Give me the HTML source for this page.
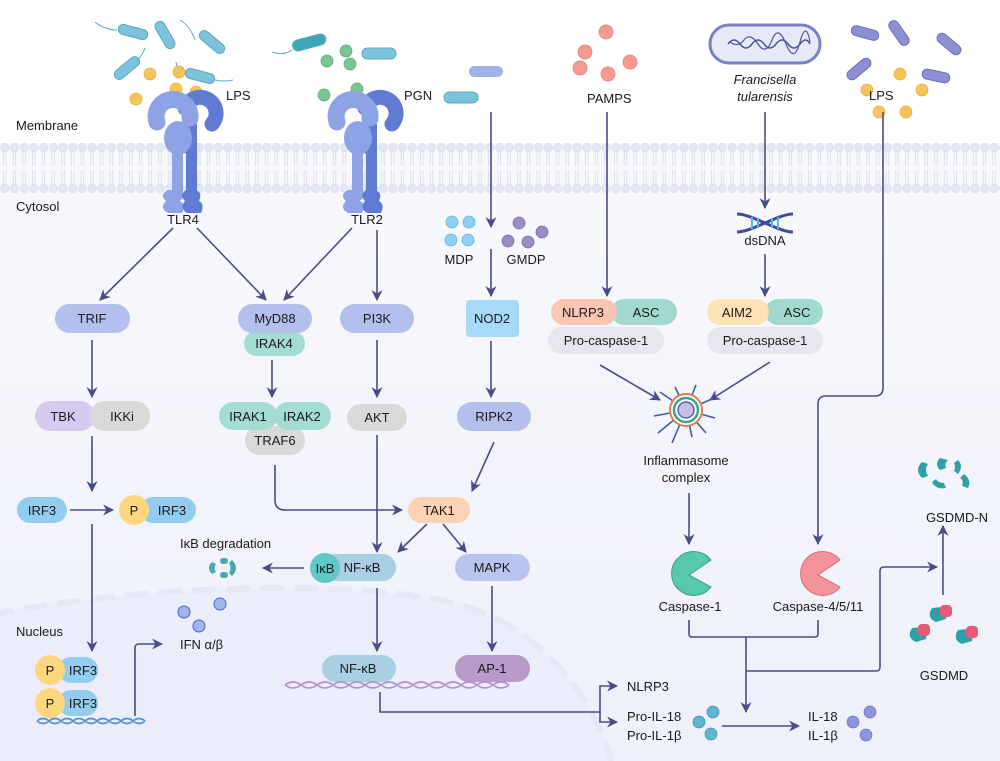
<!DOCTYPE html>
<html><head><meta charset="utf-8"><style>
html,body{margin:0;padding:0;background:#fff}
svg{display:block}
text{font-family:"Liberation Sans",Arial,sans-serif;font-size:13px;fill:#1a1a1a}
.c{text-anchor:middle}
</style></head><body>
<svg width="1000" height="761" viewBox="0 0 1000 761" xmlns="http://www.w3.org/2000/svg">
<defs>
<marker id="a" viewBox="0 0 10 10" refX="9" refY="5" markerWidth="11" markerHeight="11" markerUnits="userSpaceOnUse" orient="auto"><path d="M0,0 L10,5 L0,10 L3,5 Z" fill="#4a4c85"/></marker>
<linearGradient id="bg" x1="0" y1="0" x2="0" y2="1"><stop offset="0" stop-color="#fbfbfd"/><stop offset="1" stop-color="#eef0fa"/></linearGradient>
<pattern id="mem" x="0" y="143" width="9.7" height="50" patternUnits="userSpaceOnUse">
<line x1="3.5" y1="8" x2="3.5" y2="23" stroke="#d5d9ea" stroke-width="0.8"/><line x1="6" y1="8" x2="6" y2="23" stroke="#d5d9ea" stroke-width="0.8"/>
<line x1="3.5" y1="27" x2="3.5" y2="42" stroke="#d5d9ea" stroke-width="0.8"/><line x1="6" y1="27" x2="6" y2="42" stroke="#d5d9ea" stroke-width="0.8"/>
<circle cx="4.85" cy="4.5" r="4.2" fill="#e4e7f3" stroke="#d3d8ea" stroke-width="0.6"/>
<circle cx="4.85" cy="45.5" r="4.2" fill="#e4e7f3" stroke="#d3d8ea" stroke-width="0.6"/>
</pattern>
<g id="tlr">
<path d="M0,108 A16,16 0 1 1 27,124" fill="none" stroke="#5f7bd3" stroke-width="15" stroke-linecap="round"/>
<rect x="1" y="122" width="11" height="78" rx="3" fill="#5f7bd3"/>
<rect x="-4" y="120" width="16" height="34" rx="7" fill="#5f7bd3"/>
<rect x="-13" y="135" width="11" height="65" rx="3" fill="#8ea3e6"/>
<ellipse cx="-7" cy="138" rx="14" ry="17" fill="#8ea3e6"/>
<path d="M5,118 A17,17 0 1 0 -28,122" fill="none" stroke="#8ea3e6" stroke-width="17" stroke-linecap="round"/>
<path d="M-17,190 q-9,5 -2,11 q-7,7 2,12 l14,0 q4,-9 -2,-12 q4,-9 -4,-11 z" fill="#8ea3e6"/>
<path d="M1,190 q-7,5 -1,11 q-6,7 2,12 l14,0 q4,-9 -2,-12 q4,-9 -4,-11 z" fill="#5f7bd3"/>
</g>
</defs>
<rect width="1000" height="761" fill="url(#bg)"/>
<rect y="0" width="1000" height="143" fill="#fff"/>
<!-- nucleus -->
<path d="M-10,615 C150,583 380,578 470,608 C540,632 590,690 612,761 L-10,761 Z" fill="#ebeefa"/>
<path d="M-10,615 C150,583 380,578 470,608 C540,632 590,690 612,761" fill="none" stroke="#e3e7f6" stroke-width="6" stroke-dasharray="24,10"/>
<!-- membrane -->
<rect x="0" y="143" width="1000" height="50" fill="url(#mem)"/>

<!-- bacteria top-left -->
<g fill="#7cc3db" stroke="#5aa9c4" stroke-width="1">
<rect x="118" y="27" width="30" height="10" rx="5" transform="rotate(15 133 32)"/>
<rect x="150" y="30" width="30" height="10" rx="5" transform="rotate(60 165 35)"/>
<rect x="197" y="37" width="30" height="10" rx="5" transform="rotate(40 212 42)"/>
<rect x="112" y="63" width="30" height="10" rx="5" transform="rotate(-40 127 68)"/>
<rect x="185" y="71" width="30" height="10" rx="5" transform="rotate(15 200 76)"/>
<rect x="292" y="37" width="34" height="11" rx="5.5" fill="#3ea6b5" transform="rotate(-15 309 42)"/>
<rect x="362" y="48" width="34" height="11" rx="5.5"/>
<rect x="444" y="92" width="34" height="11" rx="5.5"/>
</g>
<rect x="469" y="66" width="34" height="11" rx="5.5" fill="#9fb3e6"/>
<g fill="none" stroke="#5aa9c4" stroke-width="1"><path d="M95,22 q10,8 22,8"/><path d="M180,20 q10,6 15,20"/><path d="M145,48 q-4,10 -8,12"/><path d="M176,62 q2,10 5,12"/><path d="M215,80 q10,2 18,0"/><path d="M292,50 q-8,6 -20,2"/></g>
<g fill="#f5c45a" stroke="#e8ac3a" stroke-width="0.7">
<circle cx="150" cy="74" r="6"/><circle cx="179" cy="72" r="6"/><circle cx="136" cy="99" r="6"/><circle cx="176" cy="89" r="6"/><circle cx="196" cy="92" r="6"/>
<circle cx="900" cy="74" r="6"/><circle cx="867" cy="90" r="6"/><circle cx="922" cy="90" r="6"/><circle cx="879" cy="112" r="6"/><circle cx="906" cy="112" r="6"/>
</g>
<g fill="#79c594" stroke="#5aaa77" stroke-width="0.7">
<circle cx="346" cy="51" r="6"/><circle cx="327" cy="61" r="6"/><circle cx="350" cy="64" r="6"/><circle cx="324" cy="95" r="6"/><circle cx="357" cy="89" r="6"/>
</g>
<g fill="#f59a90" stroke="#e57a70" stroke-width="0.7">
<circle cx="606" cy="32" r="7"/><circle cx="585" cy="52" r="7"/><circle cx="630" cy="62" r="7"/><circle cx="608" cy="74" r="7"/><circle cx="580" cy="68" r="7"/>
</g>
<!-- francisella -->
<rect x="710" y="25" width="110" height="38" rx="19" fill="#e7e9f7" stroke="#7b80c6" stroke-width="3"/>
<path d="M728,44 q6,-8 12,0 t12,0 t12,0 t12,0 t12,0 t12,0 t10,0" fill="none" stroke="#4e5499" stroke-width="1.5"/>
<path d="M730,42 q8,6 14,-2 t14,4 t14,-4 t14,4 t14,-2 t10,0" fill="none" stroke="#4e5499" stroke-width="1.2"/>
<!-- right bacteria -->
<g fill="#8c8fd3" stroke="#6d70b8" stroke-width="1">
<rect x="851" y="28" width="28" height="10" rx="5" transform="rotate(15 865 33)"/>
<rect x="885" y="28" width="28" height="10" rx="5" transform="rotate(55 899 33)"/>
<rect x="935" y="39" width="28" height="10" rx="5" transform="rotate(40 949 44)"/>
<rect x="845" y="64" width="28" height="10" rx="5" transform="rotate(-40 859 69)"/>
<rect x="922" y="71" width="28" height="10" rx="5" transform="rotate(12 936 76)"/>
</g>

<!-- receptors -->
<use href="#tlr" x="185" y="0"/>
<use href="#tlr" x="365" y="0"/>

<!-- labels -->
<text x="226" y="100">LPS</text>
<text x="404" y="100">PGN</text>
<text x="587" y="103">PAMPS</text>
<text x="765" y="84" class="c" font-style="italic">Francisella</text>
<text x="765" y="101" class="c" font-style="italic">tularensis</text>
<text x="869" y="100">LPS</text>
<text x="16" y="130">Membrane</text>
<text x="16" y="211">Cytosol</text>
<text x="183" y="224" class="c">TLR4</text>
<text x="367" y="224" class="c">TLR2</text>
<text x="16" y="636">Nucleus</text>

<!-- MDP/GMDP -->
<g fill="#8ed0f3" stroke="#62b6e3" stroke-width="0.8"><circle cx="452" cy="222" r="6"/><circle cx="469" cy="222" r="6"/><circle cx="451" cy="240" r="6"/><circle cx="468" cy="240" r="6"/></g>
<g fill="#9b8cc6" stroke="#7d6eab" stroke-width="0.8"><circle cx="519" cy="223" r="6"/><circle cx="542" cy="232" r="6"/><circle cx="508" cy="241" r="6"/><circle cx="528" cy="242" r="6"/></g>
<text x="459" y="264" class="c">MDP</text><text x="526" y="264" class="c">GMDP</text>
<!-- dsDNA icon -->
<path d="M737,214 C752,214 778,232 793,232 M737,232 C752,232 778,214 793,214" fill="none" stroke="#3f4aa0" stroke-width="3"/>
<g stroke="#59b5e0" stroke-width="2"><line x1="752" y1="217" x2="752" y2="229"/><line x1="758" y1="218" x2="758" y2="228"/><line x1="772" y1="218" x2="772" y2="228"/><line x1="778" y1="217" x2="778" y2="229"/></g>
<text x="765" y="245" class="c">dsDNA</text>

<!-- connectors -->
<g stroke="#4a4c85" stroke-width="1.6" fill="none" marker-end="url(#a)">
<line x1="173" y1="228" x2="100" y2="300"/>
<line x1="197" y1="228" x2="266" y2="300"/>
<line x1="352" y1="228" x2="284" y2="300"/>
<line x1="377" y1="230" x2="377" y2="300"/>
<line x1="491" y1="112" x2="491" y2="227"/>
<line x1="491" y1="249" x2="491" y2="296"/>
<line x1="607" y1="112" x2="607" y2="296"/>
<line x1="765" y1="112" x2="765" y2="208"/>
<line x1="765" y1="254" x2="765" y2="296"/>
<line x1="92" y1="340" x2="92" y2="397"/>
<line x1="272" y1="360" x2="272" y2="397"/>
<line x1="377" y1="340" x2="377" y2="397"/>
<line x1="491" y1="341" x2="491" y2="397"/>
<line x1="92" y1="436" x2="92" y2="491"/>
<line x1="70" y1="510" x2="113" y2="510"/>
<path d="M275,465 V500 Q275,510 285,510 H402"/>
<line x1="494" y1="442" x2="472" y2="491"/>
<line x1="377" y1="435" x2="377" y2="552"/>
<line x1="427" y1="524" x2="398" y2="552"/>
<line x1="443" y1="524" x2="466" y2="552"/>
<line x1="304" y1="568" x2="263" y2="568"/>
<line x1="92" y1="524" x2="92" y2="651"/>
<path d="M135,716 V648 Q135,644 139,644 H162"/>
<line x1="377" y1="588" x2="377" y2="651"/>
<line x1="492" y1="586" x2="492" y2="651"/>
<path d="M380,692 V712 H600 V686 H617"/>
<path d="M600,712 V722 H617"/>
<line x1="600" y1="365" x2="660" y2="400"/>
<line x1="770" y1="362" x2="710" y2="400"/>
<line x1="689" y1="493" x2="689" y2="544"/>
<path d="M883,112 V388 Q883,396 875,396 H826 Q818,396 818,404 V544"/>
<path d="M689,620 V634 Q689,637 692,637 H815 Q818,637 818,634 V620" marker-end="none"/>
<line x1="746" y1="637" x2="746" y2="712"/>
<path d="M746,671 H876 Q880,671 880,667 V571 Q880,567 884,567 H937"/>
<line x1="943" y1="595" x2="943" y2="526"/>
<line x1="722" y1="726" x2="799" y2="726"/>
</g>

<!-- nodes -->
<g>
<rect x="55" y="304" width="75" height="29" rx="14.5" fill="#b3c0ee"/><text x="92" y="323" class="c">TRIF</text>
<rect x="244" y="331" width="61" height="25" rx="12.5" fill="#a4dcd3"/><text x="274" y="348" class="c">IRAK4</text>
<rect x="238" y="304" width="74" height="29" rx="14.5" fill="#b3c0ee"/><text x="275" y="323" class="c">MyD88</text>
<rect x="340" y="304" width="74" height="29" rx="14.5" fill="#b3c0ee"/><text x="377" y="323" class="c">PI3K</text>
<rect x="466" y="300" width="53" height="37" rx="4" fill="#a7d9f8"/><text x="492" y="323" class="c">NOD2</text>
<rect x="548" y="327" width="116" height="27" rx="13.5" fill="#e6e6ee"/><text x="606" y="345" class="c">Pro-caspase-1</text>
<rect x="611" y="299" width="66" height="26" rx="13" fill="#a2d9cf"/><text x="646" y="317" class="c">ASC</text>
<rect x="551" y="299" width="66" height="26" rx="13" fill="#f9c6b3"/><text x="583" y="317" class="c">NLRP3</text>
<rect x="707" y="327" width="116" height="27" rx="13.5" fill="#e6e6ee"/><text x="765" y="345" class="c">Pro-caspase-1</text>
<rect x="765" y="299" width="58" height="26" rx="13" fill="#a2d9cf"/><text x="797" y="317" class="c">ASC</text>
<rect x="707" y="299" width="62" height="26" rx="13" fill="#fde2b5"/><text x="737" y="317" class="c">AIM2</text>
<rect x="35" y="401" width="60" height="30" rx="15" fill="#d6cbee"/><text x="63" y="421" class="c">TBK</text>
<rect x="90" y="401" width="60" height="30" rx="15" fill="#d9d9d9"/><text x="122" y="421" class="c">IKKi</text>
<rect x="245" y="426" width="60" height="29" rx="14.5" fill="#d9d9d9"/><text x="275" y="445" class="c">TRAF6</text>
<rect x="219" y="402" width="58" height="28" rx="14" fill="#a4dcd3"/><text x="248" y="421" class="c">IRAK1</text>
<rect x="274" y="402" width="57" height="28" rx="14" fill="#a4dcd3"/><text x="302" y="421" class="c">IRAK2</text>
<rect x="347" y="404" width="60" height="27" rx="13.5" fill="#d9d9d9"/><text x="377" y="422" class="c">AKT</text>
<rect x="457" y="402" width="74" height="29" rx="14.5" fill="#b3c0ee"/><text x="494" y="421" class="c">RIPK2</text>
<rect x="17" y="497" width="50" height="26" rx="13" fill="#92cdf0"/><text x="42" y="515" class="c">IRF3</text>
<rect x="140" y="497" width="56" height="26" rx="13" fill="#92cdf0"/><text x="172" y="515" class="c">IRF3</text>
<circle cx="134" cy="510" r="15" fill="#fcd77e"/><text x="134" y="515" class="c">P</text>
<rect x="408" y="497" width="62" height="26" rx="13" fill="#fdd1b4"/><text x="439" y="515" class="c">TAK1</text>
<rect x="322" y="554" width="74" height="27" rx="13.5" fill="#a9cfe3"/><text x="362" y="572" class="c">NF-κB</text>
<circle cx="325" cy="568" r="15" fill="#5ec9c6"/><text x="325" y="573" class="c">IκB</text>
<rect x="455" y="554" width="75" height="27" rx="13.5" fill="#b8c6ef"/><text x="492" y="572" class="c">MAPK</text>
<text x="180" y="548">IκB degradation</text>
<g fill="#4aa8ad"><path d="M212,562 q-6,6 0,12 l4,-2 q-3,-4 0,-8 z"/><rect x="220" y="558" width="8" height="6" rx="3"/><rect x="220" y="572" width="8" height="6" rx="3"/><path d="M232,560 q8,8 0,16 l-3,-3 q3,-5 0,-10 z"/></g>
<g fill="#9fb6f0" stroke="#4e63c5" stroke-width="1"><circle cx="184" cy="612" r="6"/><circle cx="220" cy="604" r="6"/><circle cx="199" cy="626" r="6"/></g>
<text x="180" y="649">IFN α/β</text>
<rect x="322" y="655" width="74" height="27" rx="13.5" fill="#a9cfe3"/><text x="358" y="673" class="c">NF-κB</text>
<rect x="455" y="655" width="75" height="27" rx="13.5" fill="#b89ac8"/><text x="492" y="673" class="c">AP-1</text>
<path d="M285,685 q8,-6 16,0 t16,0 t16,0 t16,0 t16,0 t16,0 t16,0 t16,0 t16,0 t16,0 t16,0 t16,0 t16,0 t16,0 M285,685 q8,6 16,0 t16,0 t16,0 t16,0 t16,0 t16,0 t16,0 t16,0 t16,0 t16,0 t16,0 t16,0 t16,0 t16,0" fill="none" stroke="#b48fd0" stroke-width="1.6"/>
<rect x="58" y="657" width="40" height="26" rx="13" fill="#92cdf0"/><text x="83" y="675" class="c">IRF3</text>
<circle cx="50" cy="670" r="15" fill="#fcd77e"/><text x="50" y="675" class="c">P</text>
<rect x="58" y="690" width="40" height="26" rx="13" fill="#92cdf0"/><text x="83" y="708" class="c">IRF3</text>
<circle cx="50" cy="703" r="15" fill="#fcd77e"/><text x="50" y="708" class="c">P</text>
<path d="M37,721 q6,-5 12,0 t12,0 t12,0 t12,0 t12,0 t12,0 t12,0 t12,0 t12,0 M37,721 q6,5 12,0 t12,0 t12,0 t12,0 t12,0 t12,0 t12,0 t12,0 t12,0" fill="none" stroke="#4e8fd8" stroke-width="1.6"/>

<!-- inflammasome -->
<g stroke="#3f5aa8" stroke-width="1.6">
<line x1="686" y1="410" x2="660" y2="392"/><line x1="686" y1="410" x2="675" y2="387"/><line x1="686" y1="410" x2="696" y2="385"/><line x1="686" y1="410" x2="712" y2="399"/><line x1="686" y1="410" x2="715" y2="418"/><line x1="686" y1="410" x2="706" y2="433"/><line x1="686" y1="410" x2="692" y2="437"/><line x1="686" y1="410" x2="672" y2="443"/><line x1="686" y1="410" x2="658" y2="433"/><line x1="686" y1="410" x2="654" y2="416"/>
</g>
<circle cx="686" cy="410" r="16" fill="#fff" stroke="#e07a50" stroke-width="2"/>
<circle cx="686" cy="410" r="12" fill="#fff" stroke="#3aa38c" stroke-width="2.5"/>
<circle cx="686" cy="410" r="8" fill="#cbbce8" stroke="#4a66b0" stroke-width="1.5"/>
<text x="686" y="465" class="c">Inflammasome</text><text x="686" y="482" class="c">complex</text>

<!-- caspases -->
<path d="M711,560 A22,22 0 1 0 711,587 L689,575 Z" fill="#58c8ad" stroke="#3a9e88"/>
<path d="M840,560 A22,22 0 1 0 840,587 L818,575 Z" fill="#f5939b" stroke="#d66a74"/>
<text x="690" y="611" class="c">Caspase-1</text><text x="818" y="611" class="c">Caspase-4/5/11</text>

<!-- GSDMD -->
<g fill="#2fa0a8">
<path d="M922,462 q-8,8 0,16 l6,-2 q-4,-6 0,-12 z"/><path d="M940,458 q-6,6 0,12 l6,-2 q-2,-4 2,-8 z"/><path d="M958,460 q6,6 0,14 l-4,-3 q2,-4 0,-8 z"/><path d="M964,474 q8,6 4,14 l-6,-2 q2,-6 -2,-8 z"/><path d="M932,482 q4,8 14,6 l-2,-5 q-6,0 -8,-4 z"/>
<path d="M912,628 q-6,10 4,14 l10,-3 q2,-8 -4,-12 z"/><path d="M932,608 q-6,10 4,14 l10,-3 q2,-8 -4,-12 z"/><path d="M958,630 q-6,10 4,14 l10,-3 q2,-8 -4,-12 z"/>
</g>
<g fill="#e85a78"><rect x="918" y="624" width="12" height="12" rx="4"/><rect x="940" y="605" width="12" height="12" rx="4"/><rect x="966" y="626" width="12" height="12" rx="4"/></g>
<text x="957" y="522" class="c">GSDMD-N</text>
<text x="944" y="680" class="c">GSDMD</text>

<text x="627" y="691">NLRP3</text>
<text x="627" y="721">Pro-IL-18</text>
<text x="627" y="740">Pro-IL-1β</text>
<g fill="#5fb4cf" stroke="#3f93b0" stroke-width="0.7"><circle cx="713" cy="712" r="6"/><circle cx="699" cy="722" r="6"/><circle cx="711" cy="734" r="6"/></g>
<text x="808" y="721">IL-18</text>
<text x="808" y="740">IL-1β</text>
<g fill="#8d94e0" stroke="#6d73c4" stroke-width="0.7"><circle cx="870" cy="712" r="6"/><circle cx="853" cy="722" r="6"/><circle cx="866" cy="735" r="6"/></g>
</svg>
</body></html>
